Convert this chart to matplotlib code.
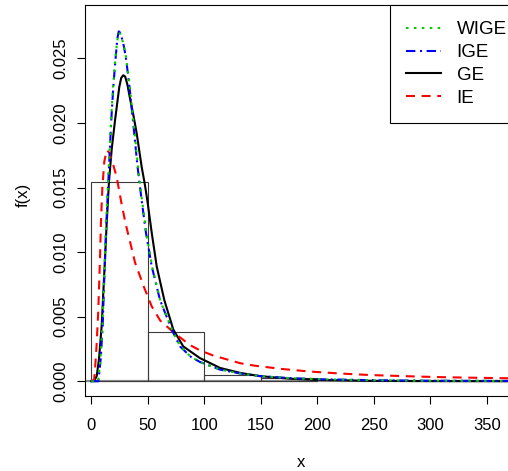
import matplotlib
matplotlib.use("Agg")
import matplotlib.pyplot as plt
from matplotlib.lines import Line2D

plt.rcParams['font.family'] = ['Liberation Sans', 'DejaVu Sans']

# histogram (density scale), bin width 50
bin_edges = [0, 50, 100, 150]
bin_heights = [0.01546, 0.00385, 0.00046, 0.00023]
bin_width = 50

# fitted densities
ge_x = [0, 2.7, 4.8, 6.8, 9.2, 10.6, 12.1, 13.6, 15.7, 18.1, 21.0, 24.8, 26.5, 28.3, 30.0,
        31.9, 34.5, 37.5, 40.2, 44.6, 47.5, 49.6, 53.5, 57.9, 64.6, 72.6, 81.4, 96, 114,
        131.6, 149, 175, 200, 250, 300, 384]
ge_y = [0, 0.00005, 0.0004, 0.0017, 0.0043, 0.0068, 0.0094, 0.0122, 0.0155, 0.0180, 0.0202,
        0.0228, 0.0235, 0.0237, 0.0236, 0.0230, 0.0218, 0.0205, 0.0192, 0.0166, 0.0152,
        0.0140, 0.0115, 0.0089, 0.0063, 0.0040, 0.0027, 0.0018, 0.00103, 0.00065, 0.0004,
        0.0002, 0.0001, 0.00003, 0.00001, 0.0]

ige_x = [0, 6.2, 6.8, 8.3, 10.1, 11.3, 12.3, 13.3, 14.2, 15.0, 16.6, 18.0, 19.5, 21.0, 21.9,
         23.0, 24.3, 25.5, 27.0, 28.7, 30.4, 32.3, 34.3, 37.8, 40.7, 44.6, 48.4, 53.5, 60.8,
         71.2, 78.5, 88, 96, 114, 131.6, 149, 175, 200, 250, 300, 384]
ige_y = [0, 0.0, 0.0004, 0.0017, 0.0043, 0.0075, 0.0098, 0.0122, 0.0138, 0.0153, 0.0183,
         0.0207, 0.0228, 0.0245, 0.0254, 0.0265, 0.0271, 0.0270, 0.0266, 0.0260, 0.0252,
         0.0239, 0.0224, 0.0194, 0.0168, 0.0140, 0.0115, 0.0089, 0.0063, 0.0040, 0.0027,
         0.0019, 0.0015, 0.0009, 0.0006, 0.0004, 0.00025, 0.00016, 0.00008, 0.00004, 0.00002]

wige_x = [0, 6.0, 6.6, 8.1, 9.9, 11.1, 12.1, 13.1, 14.0, 14.8, 16.4, 17.8, 19.3, 20.8, 21.8,
          23.0, 24.6, 25.8, 27.3, 29.0, 30.8, 32.7, 34.7, 38.3, 41.2, 45.1, 48.9, 54.0, 61.2,
          71.5, 78.8, 88, 96, 114, 131.6, 149, 175, 200, 250, 300, 384]
wige_y = [0, 0.0, 0.0004, 0.0017, 0.0043, 0.0075, 0.0098, 0.0122, 0.0138, 0.0153, 0.0183,
          0.0207, 0.0228, 0.0245, 0.0254, 0.0264, 0.0270, 0.0269, 0.0265, 0.0259, 0.0251,
          0.0238, 0.0223, 0.0193, 0.0167, 0.0139, 0.0114, 0.0088, 0.0062, 0.0040, 0.0027,
          0.0019, 0.0015, 0.0009, 0.0006, 0.0004, 0.00025, 0.00016, 0.00008, 0.00004, 0.00002]

ie_x = [0, 2.5, 3.3, 4.7, 6.2, 7.7, 8.5, 9.8, 11.5, 13.6, 16.0, 19.0, 22.5, 26.9, 30.4, 34.3,
        38.7, 46.6, 53.5, 61, 72.6, 87.4, 96, 107.7, 131.6, 145, 168.8, 193.6, 220, 246.9,
        286.4, 313, 339.7, 384]
ie_y = [0, 0.0001, 0.0009, 0.0028, 0.0055, 0.0095, 0.0122, 0.0150, 0.0170, 0.0179, 0.0177,
        0.0169, 0.0158, 0.0137, 0.0122, 0.0108, 0.0092, 0.0073, 0.0058, 0.0047, 0.0038,
        0.0028, 0.0024, 0.0020, 0.0014, 0.0012, 0.00095, 0.00075, 0.00060, 0.00048,
        0.00037, 0.00031, 0.00027, 0.00021]

labels = ['WIGE', 'IGE', 'GE', 'IE']
x_ticks = [0, 50, 100, 150, 200, 250, 300, 350]
y_ticks = [0.000, 0.005, 0.010, 0.015, 0.020, 0.025]

W, H = 508, 471
fig = plt.figure(figsize=(W / 100, H / 100), dpi=100)
left, right, top, bottom = 85.3, 525, 5.3, 395.7
ax = fig.add_axes([left / W, 1 - bottom / H, (right - left) / W, (bottom - top) / H])

ax.axhline(0, color='#8c8c8c', lw=1.6, zorder=1)
ax.bar(bin_edges, bin_heights, width=bin_width, align='edge', fill=False,
       edgecolor='#3a3a3a', lw=0.8, zorder=2)

lw = 1.5
ax.plot(ge_x, ge_y, color='black', lw=lw, zorder=3)
ax.plot(ie_x, ie_y, color='red', lw=lw, dashes=(4.3, 3.2), zorder=3)
ax.plot(ige_x, ige_y, color='blue', lw=lw, dashes=(4.5, 2.2, 1, 2.2), zorder=4)
ax.plot(wige_x, wige_y, color='#00cc00', lw=lw, dashes=(1.2, 2.6), zorder=5)

ax.set_xlim(-5.3, 383.9)
ax.set_ylim(-0.00112, 0.02912)
ax.set_xticks(x_ticks)
ax.set_xticklabels([str(v) for v in x_ticks])
ax.set_yticks(y_ticks)
ax.set_yticklabels(['%.3f' % v for v in y_ticks], rotation=90, va='center')
ax.tick_params(axis='x', length=6, width=0.8, pad=10, labelsize=12)
ax.tick_params(axis='y', length=6, width=0.8, pad=6, labelsize=12)
for s in ax.spines.values():
    s.set_linewidth(0.8)

handles = [
    Line2D([], [], color='#00cc00', lw=lw, dashes=(1.2, 2.6)),
    Line2D([], [], color='blue', lw=lw, dashes=(4.5, 2.2, 1, 2.2)),
    Line2D([], [], color='black', lw=lw),
    Line2D([], [], color='red', lw=lw, dashes=(4.3, 3.2)),
]
lx = (390 - left) / (right - left)
leg = ax.legend(handles, labels, loc='upper left', bbox_to_anchor=(lx, 1.0),
                borderaxespad=0, fancybox=False, framealpha=1, edgecolor='black',
                fontsize=13.5, handlelength=1.85, handletextpad=0.85, borderpad=0.85,
                labelspacing=0.3)
leg.get_frame().set_linewidth(0.8)

fig.text(301 / W, 1 - 462.5 / H, 'x', ha='center', va='center', fontsize=12)
fig.text(23.3 / W, 1 - 195 / H, 'f(x)', ha='center', va='center', rotation=90, fontsize=12)

fig.savefig('out.png', dpi=100)
